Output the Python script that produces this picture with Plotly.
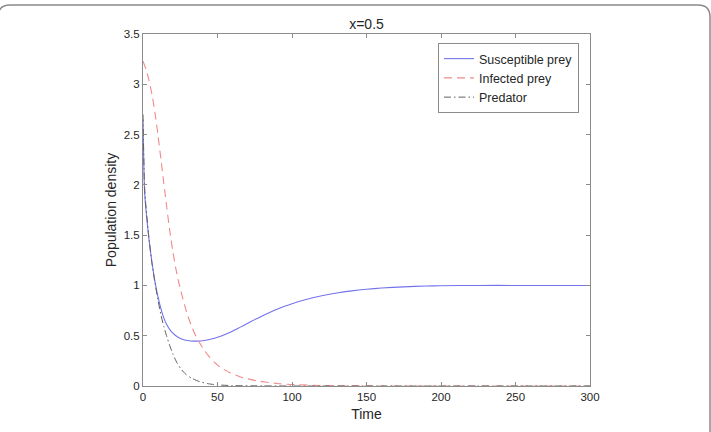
import plotly.graph_objects as go

# Time points and values
t_sus = [0, 1, 2, 3, 4, 6, 8, 10, 12, 14, 16, 18, 20, 23, 26, 30, 34, 38, 42, 46, 50, 55, 60,
         65, 70, 75, 80, 85, 90, 95, 100, 110, 120, 130, 140, 150, 160, 175, 190, 200, 225,
         250, 300]
susceptible = [2.65, 1.95, 1.75, 1.6, 1.46, 1.23, 1.04, 0.89, 0.77, 0.675, 0.608, 0.56, 0.525,
               0.49, 0.468, 0.452, 0.446, 0.448, 0.455, 0.468, 0.485, 0.512, 0.545,
               0.583, 0.622, 0.66, 0.697, 0.731, 0.763, 0.792, 0.818, 0.862, 0.897, 0.925,
               0.946, 0.962, 0.974, 0.986, 0.994, 0.997, 1.0, 1.0, 1.0]

t_inf = [0, 2, 4, 6, 8, 10, 12, 14, 16, 18, 20, 22, 24, 26, 28, 30, 33, 36, 40, 44, 48, 52,
         58, 65, 76, 90, 100, 120, 150, 200, 300]
infected = [3.23, 3.15, 3.04, 2.9, 2.72, 2.5, 2.26, 2.01, 1.77, 1.54, 1.34, 1.17, 1.03, 0.91,
            0.8, 0.7, 0.58, 0.48, 0.38, 0.3, 0.235, 0.185, 0.135, 0.092, 0.053, 0.025, 0.015,
            0.005, 0.001, 0.0, 0.0]

t_pred = [0, 1, 2, 4, 6, 8, 10, 12, 14, 16, 18, 20, 23, 26, 29, 33, 38, 44, 50, 60, 80, 100, 300]
predator = [2.7, 2.0, 1.78, 1.47, 1.22, 1.03, 0.86, 0.71, 0.59, 0.49, 0.4, 0.32, 0.225, 0.16,
            0.113, 0.075, 0.043, 0.022, 0.011, 0.004, 0.001, 0.0, 0.0]

x_ticks = [0, 50, 100, 150, 200, 250, 300]
y_ticks = [0, 0.5, 1, 1.5, 2, 2.5, 3, 3.5]
y_tick_labels = ["0", "0.5", "1", "1.5", "2", "2.5", "3", "3.5"]

W, H = 711, 432
L, R, T, B = 143, 590, 34, 386

FONT = "Liberation Sans, Arial, Helvetica, sans-serif"
TXT = "#262626"
AX = "#8c8c8c"

fig = go.Figure()
fig.add_trace(go.Scatter(x=t_sus, y=susceptible, mode="lines", name="Susceptible prey",
                         line=dict(color="#7373ec", width=1.1, shape="spline", smoothing=0.6)))
fig.add_trace(go.Scatter(x=t_inf, y=infected, mode="lines", name="Infected prey",
                         line=dict(color="#f08a8a", width=1.1, dash="8px,5px", shape="spline", smoothing=0.6)))
fig.add_trace(go.Scatter(x=t_pred, y=predator, mode="lines", name="Predator",
                         line=dict(color="#606060", width=1.0, dash="7px,3px,1.5px,3px", shape="spline", smoothing=0.6)))

def px_x(p):
    return (p - L) / (R - L)

def px_y(p):
    return (B - p) / (B - T)

# rounded outer frame (decoration)
x0, x1, y0, y1, r = -2, 710, 5, 445, 12
path = (f"M {px_x(x0 + r)},{px_y(y0)} L {px_x(x1 - r)},{px_y(y0)} "
        f"Q {px_x(x1)},{px_y(y0)} {px_x(x1)},{px_y(y0 + r)} "
        f"L {px_x(x1)},{px_y(y1)} "
        f"M {px_x(x0)},{px_y(y1)} L {px_x(x0)},{px_y(y0 + r)} "
        f"Q {px_x(x0)},{px_y(y0)} {px_x(x0 + r)},{px_y(y0)}")

fig.update_layout(
    width=W, height=H,
    margin=dict(l=L, r=W - R, t=T, b=H - B, autoexpand=False),
    paper_bgcolor="white", plot_bgcolor="white",
    font=dict(family=FONT, color=TXT, size=11.5),
    title=dict(text="x=0.5", x=(L + R) / 2 / W, xanchor="center", y=1 - 24 / H, yanchor="middle",
               font=dict(size=14, color=TXT, family=FONT)),
    showlegend=True,
    legend=dict(x=px_x(579), y=px_y(43), xanchor="right", yanchor="top",
                bgcolor="white", bordercolor="#8c8c8c", borderwidth=1,
                font=dict(size=12.5, color=TXT, family=FONT),
                tracegroupgap=0, itemwidth=30),
    shapes=[dict(type="path", path=path, xref="paper", yref="paper",
                 line=dict(color="#8a8a8a", width=1.5), layer="above")],
)

fig.update_xaxes(range=[0, 300], tickvals=x_ticks, ticks="inside", ticklen=4, tickcolor=AX,
                 showline=True, linecolor=AX, linewidth=1, mirror="ticks", showgrid=False,
                 zeroline=False, tickfont=dict(size=11.5, color=TXT),
                 title=dict(text="Time", font=dict(size=14, color=TXT), standoff=7))
fig.update_yaxes(range=[0, 3.5], tickvals=y_ticks, ticktext=y_tick_labels, ticks="inside",
                 ticklen=4, tickcolor=AX, showline=True, linecolor=AX, linewidth=1,
                 mirror="ticks", showgrid=False, zeroline=False,
                 tickfont=dict(size=11.5, color=TXT),
                 title=dict(text="Population density", font=dict(size=14, color=TXT), standoff=3))

fig.write_html("out.html")
